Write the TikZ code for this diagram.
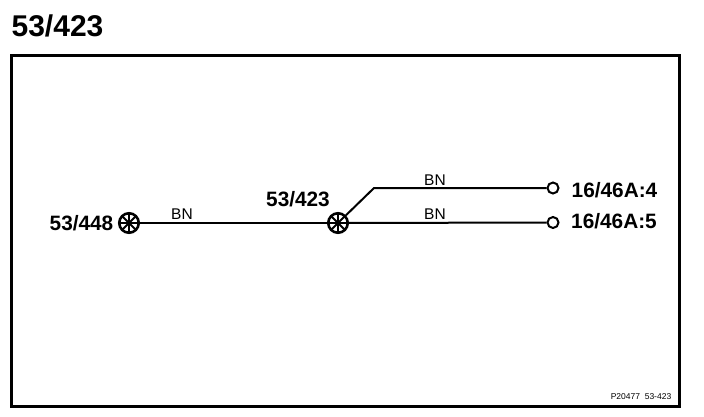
\documentclass[tikz,border=0pt]{standalone}
\usepackage{fontspec}
\setmainfont{Liberation Sans}
\tikzset{
  splice/.style={circle,draw,line width=2.6pt,fill=white,minimum size=19.5pt,inner sep=0pt,
    path picture={\foreach \a in {0,45,...,315}
      \draw[line width=2pt] (path picture bounding box.center) -- ++(\a:10pt);}},
  pinend/.style={circle,draw,line width=2pt,fill=white,minimum size=11pt,inner sep=0pt},
  wire/.style={line width=2pt},
  biglabel/.style={font=\bfseries\fontsize{20.8}{21}\selectfont,inner sep=0pt},
  colorlabel/.style={font=\fontsize{15.5}{16}\selectfont,inner sep=0pt}
}
\begin{document}
\begin{tikzpicture}[x=1pt,y=-1pt]
  \useasboundingbox (0,0) rectangle (704,416);
  \node[inner sep=0pt,font=\bfseries\fontsize{30}{30}\selectfont] (title) at (57.5,25.5) {53/423};
  \node[draw,line width=2.6pt,minimum width=668pt,minimum height=351pt,inner sep=0pt] (frame) at (345.5,231) {};
  \coordinate (bend) at (374,188);
  \node[splice] (s1) at (129,223) {};
  \node[splice] (s2) at (338,223) {};
  \node[pinend] (p1) at (553,188) {};
  \node[pinend] (p2) at (553,222.5) {};
  \draw[wire] (s1) -- (s2);
  \draw[wire] (s2) -- (p2);
  \draw[wire] (s2) -- (bend) -- (p1);
  \node[biglabel] (l1) at (81.5,223.5) {53/448};
  \node[biglabel] (l2) at (298,199.5) {53/423};
  \node[biglabel] (l3) at (614.5,190) {16/46A:4};
  \node[biglabel] (l4) at (614,221.5) {16/46A:5};
  \node[colorlabel] (c1) at (182,214.5) {BN};
  \node[colorlabel] (c2) at (435,180.5) {BN};
  \node[colorlabel] (c3) at (435,214.5) {BN};
  \node[inner sep=0pt,font=\fontsize{8.5}{9}\selectfont] (ref) at (641,397) {P20477\ \ 53-423};
\end{tikzpicture}
\end{document}
